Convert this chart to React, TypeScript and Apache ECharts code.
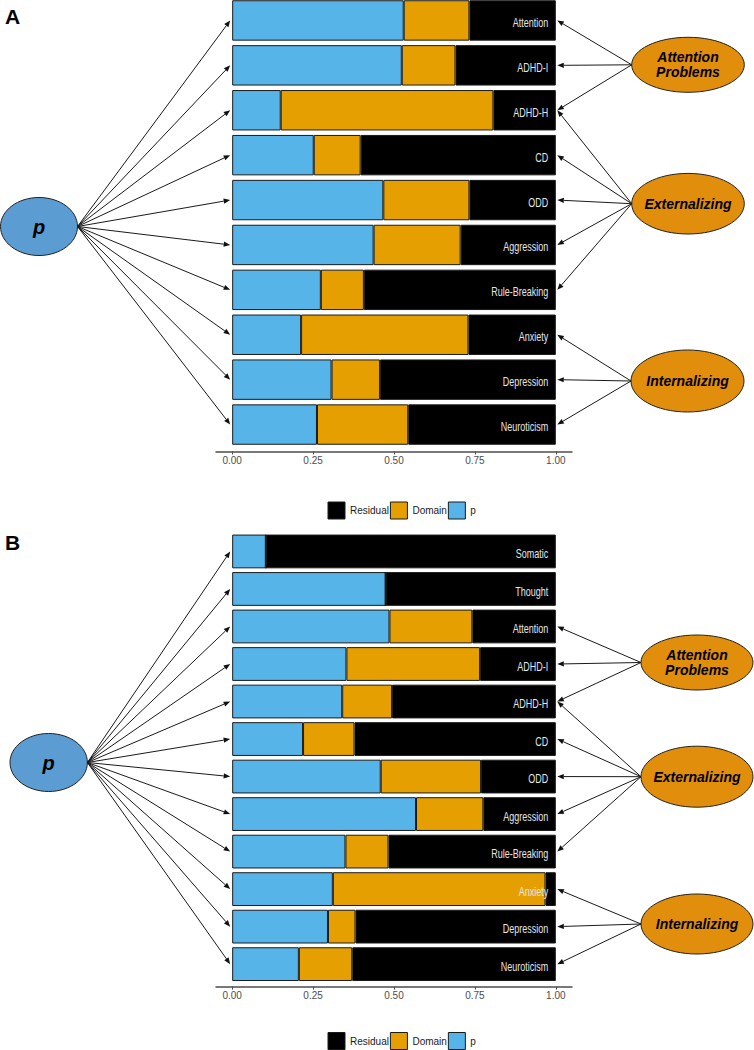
import { useEffect, useRef } from "react";
import * as echarts from "echarts";

// ---------- data ----------
const categoriesA = ["Attention", "ADHD-I", "ADHD-H", "CD", "ODD", "Aggression", "Rule-Breaking", "Anxiety", "Depression", "Neuroticism"];
const pA = [0.530, 0.524, 0.150, 0.252, 0.467, 0.437, 0.274, 0.213, 0.307, 0.262];
const domainA = [0.203, 0.166, 0.657, 0.145, 0.266, 0.269, 0.133, 0.517, 0.150, 0.282];
const residualA = [0.267, 0.310, 0.193, 0.603, 0.267, 0.294, 0.593, 0.270, 0.543, 0.456];

const categoriesB = ["Somatic", "Thought", "Attention", "ADHD-I", "ADHD-H", "CD", "ODD", "Aggression", "Rule-Breaking", "Anxiety", "Depression", "Neuroticism"];
const pB = [0.104, 0.474, 0.486, 0.353, 0.340, 0.219, 0.459, 0.568, 0.350, 0.311, 0.296, 0.206];
const domainB = [0, 0, 0.256, 0.413, 0.154, 0.159, 0.310, 0.208, 0.133, 0.657, 0.085, 0.165];
const residualB = [0.896, 0.526, 0.258, 0.234, 0.506, 0.622, 0.231, 0.224, 0.517, 0.032, 0.619, 0.629];

const tickValues = [0, 0.25, 0.5, 0.75, 1];
const legendNames = ["Residual", "Domain", "p"];

const factorNames = ["Attention Problems", "Externalizing", "Internalizing"];
const factorLabels = ["Attention\nProblems", "Externalizing", "Internalizing"];
const factorIndicators = [
  ["Attention", "ADHD-I", "ADHD-H"],
  ["ADHD-H", "CD", "ODD", "Aggression", "Rule-Breaking"],
  ["Anxiety", "Depression", "Neuroticism"],
];

// ---------- styles ----------
const BLUE = "#56B4E9";
const ORANGE = "#E69F00";
const BLACK = "#000000";
const EDGE = "#1a1a1a";
const SANS = "'Liberation Sans', Arial, sans-serif";

export default function App() {
  const ref = useRef<HTMLDivElement>(null);

  useEffect(() => {
    const el = ref.current!;
    const chart = echarts.init(el, null, { renderer: "svg", width: 754, height: 1050 });

    const makeSeries = (stack: string, idx: number, p: number[], d: number[], r: number[]) => [
      {
        name: "p", type: "bar", stack, xAxisIndex: idx, yAxisIndex: idx, data: p,
        barCategoryGap: "10%",
        itemStyle: { color: BLUE, borderColor: EDGE, borderWidth: 1 },
      },
      {
        name: "Domain", type: "bar", stack, xAxisIndex: idx, yAxisIndex: idx, data: d,
        barCategoryGap: "10%",
        itemStyle: { color: ORANGE, borderColor: EDGE, borderWidth: 1 },
      },
      {
        name: "Residual", type: "bar", stack, xAxisIndex: idx, yAxisIndex: idx, data: r,
        barCategoryGap: "10%",
        itemStyle: { color: BLACK, borderColor: EDGE, borderWidth: 1 },
      },
    ];

    const xAxisBase = (gridIndex: number, offset: number) => ({
      type: "value", gridIndex, min: -0.05, max: 1.05, offset,
      splitLine: { show: false },
      axisLine: { show: true, lineStyle: { color: "#4d4d4d", width: 1.5 } },
      axisTick: { show: true, length: 3, customValues: tickValues, lineStyle: { color: "#4d4d4d", width: 1 } },
      axisLabel: {
        customValues: tickValues, color: "#4d4d4d", fontSize: 10, fontFamily: SANS, margin: 4,
        formatter: (v: number) => v.toFixed(2),
      },
    });

    const yAxisBase = (gridIndex: number, data: string[]) => ({
      type: "category", gridIndex, data, inverse: true,
      axisLine: { show: false }, axisTick: { show: false }, axisLabel: { show: false },
      splitLine: { show: false },
    });

    const legendBase = (top: number) => ({
      data: legendNames, left: 327.5, top, orient: "horizontal", padding: 0,
      itemWidth: 17, itemHeight: 17, itemGap: 1, icon: "rect", selectedMode: false,
      itemStyle: { borderColor: EDGE, borderWidth: 1 },
      textStyle: { fontSize: 10, color: "#1a1a1a", fontFamily: SANS },
    });

    chart.setOption({
      animation: false,
      backgroundColor: "#ffffff",
      grid: [
        { left: 216, width: 356, top: -2, height: 449, outerBoundsMode: "none" },
        { left: 216, width: 356, top: 532.7, height: 450.2, outerBoundsMode: "none" },
      ],
      xAxis: [xAxisBase(0, 4.5), xAxisBase(1, 3.7)],
      yAxis: [yAxisBase(0, categoriesA), yAxisBase(1, categoriesB)],
      legend: [legendBase(501.5), legendBase(1032)],
      series: [
        ...makeSeries("A", 0, pA, domainA, residualA),
        ...makeSeries("B", 1, pB, domainB, residualB),
      ],
    });

    // ---------- diagram overlay ----------
    const graphics: any[] = [];
    const arrow = (x1: number, y1: number, x2: number, y2: number) => {
      const dx = x2 - x1, dy = y2 - y1;
      const len = Math.sqrt(dx * dx + dy * dy);
      const ux = dx / len, uy = dy / len;
      const hl = 6.5, hw = 2.6;
      const bx = x2 - ux * hl, by = y2 - uy * hl;
      graphics.push({
        type: "line", silent: true, z: 5,
        shape: { x1, y1, x2: bx, y2: by },
        style: { stroke: "#1a1a1a", lineWidth: 1 },
      });
      graphics.push({
        type: "polygon", silent: true, z: 5,
        shape: { points: [[x2, y2], [bx - uy * hw, by + ux * hw], [bx + uy * hw, by - ux * hw]] },
        style: { fill: "#111111" },
      });
    };
    const ellipse = (cx: number, cy: number, rx: number, ry: number, fill: string, text: string, fontSize: number, lh: number) => {
      graphics.push({
        type: "ellipse", silent: true, z: 4,
        shape: { cx, cy, rx, ry },
        style: { fill, stroke: "#222222", lineWidth: 1 },
      });
      graphics.push({
        type: "text", silent: true, z: 6, x: cx, y: cy,
        style: {
          text, fill: "#000000", fontSize, fontWeight: "bold", fontStyle: "italic",
          fontFamily: SANS, align: "center", verticalAlign: "middle", lineHeight: lh,
        },
      });
    };

    const panels = [
      {
        idx: 0, cats: categoriesA, label: "A", labelY: 16.7,
        pEll: [39, 226.5, 38.5, 29],
        factors: [[688, 64.8, 56.3, 27.5], [688, 203.7, 56.3, 30.3], [687.5, 381, 56.5, 31]],
      },
      {
        idx: 1, cats: categoriesB, label: "B", labelY: 542.2,
        pEll: [48.7, 762.5, 38.7, 29],
        factors: [[697, 662.5, 56, 27.5], [697, 776.7, 56, 30.5], [697, 924, 56, 30]],
      },
    ];

    panels.forEach((pn) => {
      const finder = { xAxisIndex: pn.idx, yAxisIndex: pn.idx };
      const centerY = (name: string) => (chart.convertToPixel(finder, [0, pn.cats.indexOf(name)]) as number[])[1];
      const x0 = (chart.convertToPixel(finder, [0, 0]) as number[])[0];
      const x1 = (chart.convertToPixel(finder, [1, 0]) as number[])[0];

      graphics.push({
        type: "text", silent: true, x: 5, y: pn.labelY,
        style: { text: pn.label, fontSize: 21, fontWeight: "bold", fontFamily: SANS, fill: "#000", align: "left", verticalAlign: "middle" },
      });

      // category labels inside the bars (narrow face)
      pn.cats.forEach((c) => {
        graphics.push({
          type: "text", silent: true, z: 50, x: x1 - 7.5, y: centerY(c) + 2, scaleX: 0.75,
          style: {
            text: c, fill: "#e6e6e6", fontSize: 12, fontFamily: SANS,
            align: "right", verticalAlign: "middle",
          },
        });
      });

      const [pcx, pcy, prx, pry] = pn.pEll;
      pn.cats.forEach((c) => arrow(pcx + prx, pcy, x0 - 2, centerY(c)));
      ellipse(pcx, pcy, prx, pry, "#5B9DD2", "p", 20, 22);

      factorNames.forEach((f, fi) => {
        const [cx, cy, rx, ry] = pn.factors[fi];
        factorIndicators[fi].forEach((ind) => {
          if (pn.cats.indexOf(ind) >= 0) arrow(cx - rx, cy, x1 + 1.5, centerY(ind));
        });
        ellipse(cx, cy, rx, ry, "#E08E0B", factorLabels[fi], 14, 15);
      });
    });

    chart.setOption({ graphic: { elements: graphics } });

    return () => chart.dispose();
  }, []);

  return <div ref={ref} style={{ position: "absolute", left: 0, top: 0, width: 754, height: 1050 }} />;
}
